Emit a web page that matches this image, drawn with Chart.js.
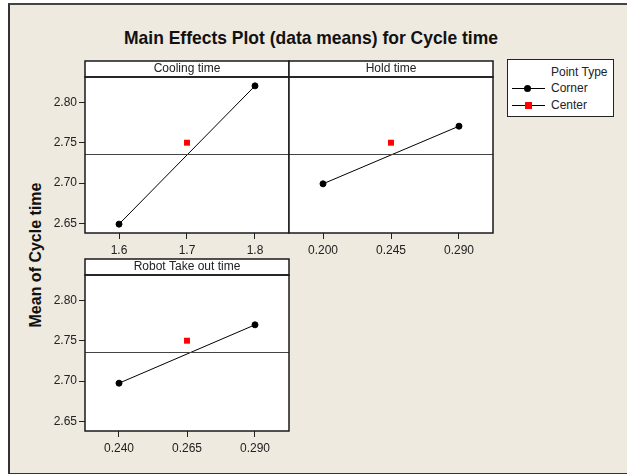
<!DOCTYPE html>
<html>
<head>
<meta charset="utf-8">
<script src="https://cdn.jsdelivr.net/npm/chart.js@4.4.1/dist/chart.umd.min.js"></script>
<style>
  body { margin: 0; background: #fff; width: 627px; height: 474px; overflow: hidden; position: relative;
         font-family: 'Liberation Sans Narrow', 'Arial Narrow', 'Liberation Sans', sans-serif; }
  #frame { position: absolute; left: 8px; top: 3px; width: 640px; height: 468px; background: #EEEAE0;
           border-left: 2px solid #333; border-top: 2px solid #444; border-bottom: 2px solid #333; }
  canvas { position: absolute; }
  #title { position: absolute; left: 0; width: 622px; top: 27px; text-align: center; font-weight: bold;
           font-size: 19px; color: #111; transform: scaleX(0.92); }
  #ytitle { position: absolute; left: 36px; top: 255px; transform: translate(-50%, -50%) rotate(-90deg);
            white-space: nowrap; font-family: 'Liberation Sans', Arial, sans-serif; font-weight: bold; font-size: 16px; color: #111; }
  #legend { position: absolute; left: 507px; top: 59px; width: 105px; height: 56px; background: #fff;
            border: 1.5px solid #222; font-size: 12px; color: #222; }
  .lg { position: absolute; left: 43px; }
  .ln { position: absolute; left: 4px; width: 33px; height: 1px; background: #000; }
  .dot { position: absolute; left: 16px; width: 7px; height: 7px; border-radius: 50%; background: #000; }
  .sq { position: absolute; left: 17px; width: 7px; height: 7px; background: #f00; }
</style>
</head>
<body>
<div id="frame"></div>
<div id="title">Main Effects Plot (data means) for Cycle time</div>
<div id="ytitle">Mean of Cycle time</div>
<div id="legend">
  <div class="lg" style="top:5px">Point Type</div>
  <div class="ln" style="top:28px"></div><div class="dot" style="top:25px"></div>
  <div class="lg" style="top:21px">Corner</div>
  <div class="ln" style="top:45px"></div><div class="sq" style="top:42px"></div>
  <div class="lg" style="top:38px">Center</div>
</div>
<canvas id="p1" width="260" height="205" style="left:30px;top:60px"></canvas>
<canvas id="p2" width="206" height="205" style="left:288px;top:60px"></canvas>
<canvas id="p3" width="260" height="205" style="left:30px;top:258px"></canvas>
<script>
const yTicks = [2.65, 2.70, 2.75, 2.80];
const grandMean = 2.7355;

const coolingLevels = [1.6, 1.8];
const coolingMeans = [2.649, 2.8205];
const coolingCenter = [1.7, 2.75];
const coolingTicks = [1.6, 1.7, 1.8];

const holdLevels = [0.200, 0.290];
const holdMeans = [2.699, 2.7705];
const holdCenter = [0.245, 2.75];
const holdTicks = [0.200, 0.245, 0.290];

const robotLevels = [0.240, 0.290];
const robotMeans = [2.6973, 2.7697];
const robotCenter = [0.265, 2.75];
const robotTicks = [0.240, 0.265, 0.290];

const FONT = "'Liberation Sans Narrow', 'Arial Narrow', 'Liberation Sans', sans-serif";

const panelPlugin = {
  id: 'panel',
  beforeDraw(chart, args, opts) {
    const a = chart.chartArea, c = chart.ctx;
    c.save();
    c.fillStyle = '#fff';
    c.fillRect(a.left, a.top - 16, a.right - a.left, a.bottom - a.top + 16);
    c.restore();
  },
  afterDatasetsDraw(chart, args, opts) {
    const a = chart.chartArea, c = chart.ctx;
    const y = chart.scales.y.getPixelForValue(grandMean);
    c.save();
    c.strokeStyle = '#444';
    c.lineWidth = 1;
    c.beginPath();
    c.moveTo(a.left, Math.round(y) + 0.5);
    c.lineTo(a.right, Math.round(y) + 0.5);
    c.stroke();
    c.strokeStyle = '#1a1a1a';
    c.lineWidth = 1.5;
    c.strokeRect(a.left, a.top, a.right - a.left, a.bottom - a.top);
    c.strokeRect(a.left, a.top - 16, a.right - a.left, 16);
    c.fillStyle = '#222';
    c.font = '12px ' + FONT;
    c.textAlign = 'center';
    c.textBaseline = 'middle';
    c.fillText(opts.title, (a.left + a.right) / 2, a.top - 8);
    c.restore();
  }
};

function makePanel(id, title, levels, means, center, ticks, xmin, xmax, digits, showY) {
  new Chart(document.getElementById(id), {
    type: 'scatter',
    data: {
      datasets: [
        {
          data: levels.map((x, i) => ({ x: x, y: means[i] })),
          showLine: true,
          borderColor: '#000',
          borderWidth: 1,
          backgroundColor: '#000',
          pointRadius: 3,
          pointStyle: 'circle'
        },
        {
          data: [{ x: center[0], y: center[1] }],
          backgroundColor: '#f00',
          borderColor: '#f00',
          borderWidth: 0,
          pointStyle: 'rect',
          pointRadius: 4.2
        }
      ]
    },
    options: {
      responsive: false,
      animation: false,
      layout: { autoPadding: false, padding: { top: 17, right: 1, left: showY ? 0 : 1, bottom: 0 } },
      plugins: { legend: { display: false }, tooltip: { enabled: false }, panel: { title: title } },
      scales: {
        x: {
          type: 'linear', min: xmin, max: xmax,
          afterBuildTicks: s => { s.ticks = ticks.map(v => ({ value: v })); },
          afterFit: s => { s.height = 32; s.paddingLeft = 0; s.paddingRight = 0; },
          ticks: { color: '#222', font: { family: FONT, size: 12 }, padding: 4,
                   callback: v => v.toFixed(digits) },
          grid: { drawOnChartArea: false, tickLength: 6, color: '#222', lineWidth: 1 },
          border: { display: false }
        },
        y: {
          display: showY,
          min: 2.638, max: 2.8315,
          afterBuildTicks: s => { s.ticks = yTicks.map(v => ({ value: v })); },
          afterFit: s => { s.width = showY ? 55 : 0; s.paddingTop = 0; s.paddingBottom = 0; },
          ticks: { color: '#222', font: { family: FONT, size: 12 }, padding: 2,
                   callback: v => v.toFixed(2) },
          grid: { drawOnChartArea: false, tickLength: 6, color: '#222', lineWidth: 1 },
          border: { display: false }
        }
      }
    },
    plugins: [panelPlugin]
  });
}

makePanel('p1', 'Cooling time', coolingLevels, coolingMeans, coolingCenter, coolingTicks, 1.55, 1.85, 1, true);
makePanel('p2', 'Hold time', holdLevels, holdMeans, holdCenter, holdTicks, 0.1775, 0.3125, 3, false);
makePanel('p3', 'Robot Take out time', robotLevels, robotMeans, robotCenter, robotTicks, 0.2275, 0.3025, 3, true);
</script>
</body>
</html>
